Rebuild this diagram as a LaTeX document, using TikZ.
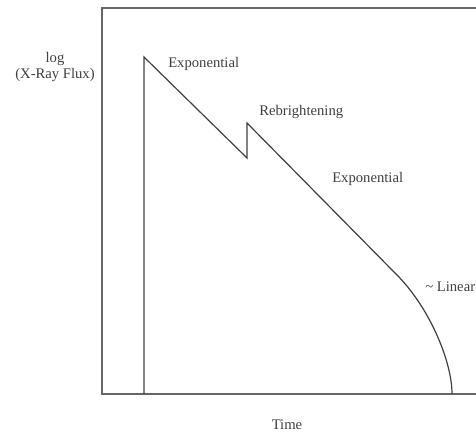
\documentclass[tikz,border=0pt]{standalone}
\usepackage{fontspec}
\setmainfont{Liberation Serif}
\usetikzlibrary{positioning}

\begin{document}
\begin{tikzpicture}[x=0.75pt,y=-0.75pt,
        frame/.style={draw=black!60,line width=0.9pt},
        curve/.style={draw=black!75,line width=0.9pt,line join=miter},
        label/.style={text=black!75,font=\fontsize{11}{12.5}\selectfont,inner sep=0pt}]

  \clip (0,0) rectangle (476,432);

  % axes box
  \draw[frame] (490,8) -- (102,8) -- (102,394) -- (490,394);

  % light curve
  \coordinate (burst) at (144,394);
  \coordinate (peak) at (144,57);
  \coordinate (dip) at (247,158);
  \coordinate (flare) at (247,123);
  \coordinate (knee) at (395,273);
  \coordinate (end) at (452,394);
  \draw[curve] (burst) -- (peak) -- (dip) -- (flare) -- (knee)
        .. controls (428,305) and (452,360) .. (end);

  % labels
  \node[label,align=center] (flux) at (55,67) {log\\(X-Ray Flux)};
  \node[label,anchor=west] (exp1) at (168,64) {Exponential};
  \node[label,anchor=west] (rebr) at (259,112) {Rebrightening};
  \node[label,anchor=west] (exp2) at (332,179) {Exponential};
  \node[label,anchor=west] (lin) at (425,287) {\textasciitilde{} Linear};
  \node[label] (time) at (287,425) {Time};
\end{tikzpicture}
\end{document}
